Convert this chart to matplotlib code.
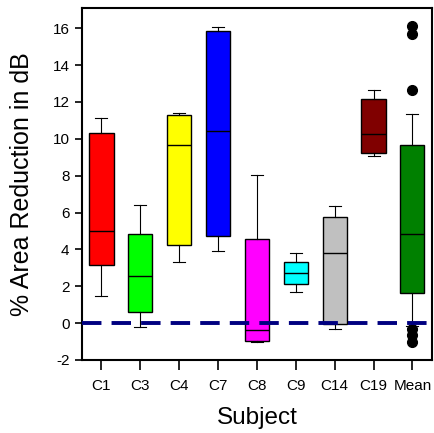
import matplotlib
matplotlib.use("Agg")
import matplotlib.pyplot as plt

plt.rcParams['font.family'] = ['Liberation Sans', 'DejaVu Sans']
plt.rcParams['axes.unicode_minus'] = False

subjects = ["C1", "C3", "C4", "C7", "C8", "C9", "C14", "C19", "Mean"]
colors = ["#ff0000", "#00ff00", "#ffff00", "#0000ff", "#ff00ff",
          "#00ffff", "#c0c0c0", "#800000", "#008000"]

whisk_lo = [1.48, -0.22, 3.32, 3.90, -1.00, 1.68, -0.31, 9.07, -0.15]
q1 = [3.14, 0.58, 4.23, 4.73, -0.98, 2.15, -0.02, 9.21, 1.66]
med = [5.00, 2.56, 9.68, 10.42, -0.35, 2.71, 3.83, 10.28, 4.82]
q3 = [10.33, 4.82, 11.27, 15.86, 4.59, 3.32, 5.76, 12.18, 9.66]
whisk_hi = [11.13, 6.41, 11.38, 16.08, 8.02, 3.78, 6.36, 12.65, 11.36]
mean_outliers = [16.1, 15.68, 12.67, -0.3, -0.65, -1.0]

stats = []
for i in range(len(subjects)):
    stats.append({
        "label": subjects[i],
        "whislo": whisk_lo[i], "q1": q1[i], "med": med[i],
        "q3": q3[i], "whishi": whisk_hi[i],
        "fliers": mean_outliers if subjects[i] == "Mean" else [],
    })

fig = plt.figure(figsize=(4.34, 4.33), dpi=100)
ax = fig.add_axes([0.189, 0.1686, 0.806, 0.8129])

bp = ax.bxp(stats, positions=range(1, 10), widths=0.62, patch_artist=True,
            showfliers=True,
            boxprops=dict(linewidth=1.0, edgecolor="black"),
            medianprops=dict(color="black", linewidth=1.0),
            whiskerprops=dict(color="black", linewidth=0.8),
            capprops=dict(color="black", linewidth=0.8),
            capwidths=0.31,
            flierprops=dict(marker="o", markerfacecolor="black",
                            markeredgecolor="black", markersize=7))
for patch, c in zip(bp["boxes"], colors):
    patch.set_facecolor(c)

ax.axhline(0, color="#000080", linewidth=2.8, linestyle=(0, (5, 2.6)), zorder=5)

ax.set_xlim(0.5, 9.5)
ax.set_ylim(-2, 17.1)
ax.set_yticks(range(-2, 17, 2))
ax.set_xticks(range(1, 10))
ax.set_xticklabels(subjects)
ax.tick_params(axis="both", direction="out", labelsize=11, width=1.2)
ax.tick_params(axis="x", length=7, pad=7)
ax.tick_params(axis="y", length=5, pad=4)
for s in ax.spines.values():
    s.set_linewidth(1.5)

ax.set_ylabel("% Area Reduction in dB", fontsize=18, labelpad=13)
ax.set_xlabel("Subject", fontsize=17.5, labelpad=10)

fig.savefig("out.png", dpi=100)
